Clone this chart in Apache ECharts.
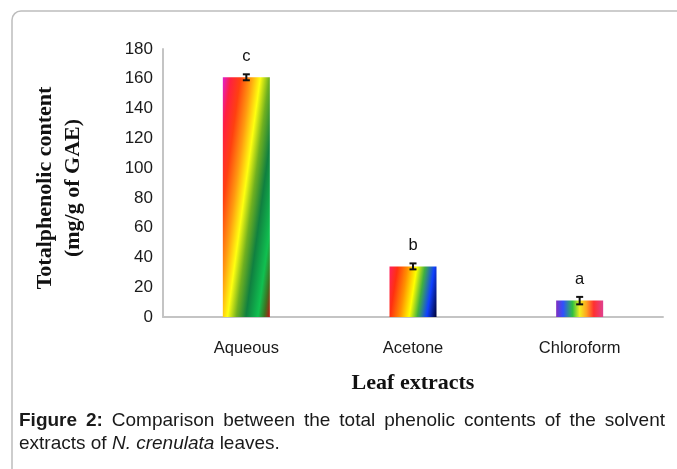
<!DOCTYPE html>
<html>
<head>
<meta charset="utf-8">
<script src="https://cdn.jsdelivr.net/npm/echarts@6/dist/echarts.min.js"></script>
<style>
html,body{margin:0;padding:0;background:#fff;}
#chart{width:677px;height:469px;}
</style>
</head>
<body>
<div id="chart"></div>
<script>
// ---- data ----
const categories = ['Aqueous', 'Acetone', 'Chloroform'];
const values = [161, 34, 11];
const errors = [2, 2, 2.5];
const letters = ['c', 'b', 'a'];
const yMin = 0, yMax = 180, yStep = 20;
const yTitleLines = ['Totalphenolic content', '(mg/g of GAE)'];
const xTitle = 'Leaf extracts';
const captionLine1 = [['Figure', true], ['2:', true], ['Comparison', false], ['between', false], ['the', false], ['total', false], ['phenolic', false], ['contents', false], ['of', false], ['the', false], ['solvent', false]];
const captionLine2 = 'extracts of {i|N. crenulata} leaves.';

// ---- styles ----
const G = echarts.graphic.LinearGradient;
const barFills = [
  new G(0, 0, 1.67, 0.045, [
    {offset: 0, color: '#e020d0'}, {offset: 0.1, color: '#ff2040'}, {offset: 0.22, color: '#ff4010'},
    {offset: 0.35, color: '#ff9a10'}, {offset: 0.47, color: '#ffff10'}, {offset: 0.58, color: '#70b020'},
    {offset: 0.7, color: '#108040'}, {offset: 0.85, color: '#10c050'}, {offset: 0.93, color: '#407020'},
    {offset: 1, color: '#c01010'}]),
  new G(0, 0, 1.14, 0.165, [
    {offset: 0, color: '#ff2060'}, {offset: 0.15, color: '#ff3010'}, {offset: 0.33, color: '#ff9000'},
    {offset: 0.5, color: '#ffff00'}, {offset: 0.65, color: '#40b040'}, {offset: 0.82, color: '#1040ff'},
    {offset: 1, color: '#000030'}]),
  new G(0, 0, 1, 0, [
    {offset: 0, color: '#8030c0'}, {offset: 0.15, color: '#3050ff'}, {offset: 0.35, color: '#30c040'},
    {offset: 0.5, color: '#f0f020'}, {offset: 0.65, color: '#ffa020'}, {offset: 0.8, color: '#ff3030'},
    {offset: 1, color: '#e04090'}])
];

const SANS = '"Liberation Sans", Arial, sans-serif';
const SERIF = '"Liberation Serif", "Times New Roman", serif';

// caption line 1: justified word layout
const capFont = 19, capLeft = 19, capRight = 665;
const ctx = document.createElement('canvas').getContext('2d');
const widths = captionLine1.map(([w, b]) => {
  ctx.font = (b ? 'bold ' : '') + capFont + 'px ' + SANS;
  return ctx.measureText(w).width;
});
const totalW = widths.reduce((a, b) => a + b, 0);
const gap = (capRight - capLeft - totalW) / (captionLine1.length - 1);
let cx = capLeft;
const captionEls = captionLine1.map(([w, b], i) => {
  const el = {
    type: 'text', x: cx, y: 421, silent: true,
    style: {text: w, font: (b ? 'bold ' : '') + capFont + 'px ' + SANS, fill: '#1a1a1a', verticalAlign: 'middle', align: 'left'}
  };
  cx += widths[i] + gap;
  return el;
});

const chart = echarts.init(document.getElementById('chart'), null, {renderer: 'canvas'});
chart.setOption({
  animation: false,
  backgroundColor: '#fff',
  grid: {left: 163, right: 14, top: 49, bottom: 152},
  xAxis: {
    type: 'category', data: categories,
    axisLine: {lineStyle: {color: '#c4c4c4', width: 2}},
    axisTick: {show: false},
    axisLabel: {fontSize: 16.5, color: '#1a1a1a', fontFamily: SANS, margin: 23},
    name: xTitle, nameLocation: 'middle', nameGap: 55,
    nameTextStyle: {fontFamily: SERIF, fontWeight: 'bold', fontSize: 22, color: '#111'}
  },
  yAxis: {
    type: 'value', min: yMin, max: yMax, interval: yStep,
    axisLine: {show: true, lineStyle: {color: '#c4c4c4', width: 2}},
    axisTick: {show: false},
    splitLine: {show: false},
    axisLabel: {fontSize: 17, color: '#1a1a1a', fontFamily: SANS, margin: 10}
  },
  series: [
    {
      type: 'bar', barWidth: 47, barCategoryGap: '0%',
      data: values.map((v, i) => ({value: v, itemStyle: {color: barFills[i]}}))
    },
    {
      type: 'custom', z: 5,
      data: values.map((v, i) => [i, v, errors[i]]),
      renderItem: function (params, api) {
        const i = api.value(0), v = api.value(1), e = api.value(2);
        const top = api.coord([i, v + e]);
        const bot = api.coord([i, v - e]);
        const x = top[0], hw = 3.5;
        const ls = {stroke: '#111', lineWidth: 2};
        return {
          type: 'group',
          children: [
            {type: 'line', shape: {x1: x, y1: top[1], x2: x, y2: bot[1]}, style: ls},
            {type: 'line', shape: {x1: x - hw, y1: top[1], x2: x + hw, y2: top[1]}, style: ls},
            {type: 'line', shape: {x1: x - hw, y1: bot[1], x2: x + hw, y2: bot[1]}, style: ls},
            {type: 'text', x: x, y: top[1] - 9, style: {text: letters[params.dataIndex], font: '16.5px ' + SANS, fill: '#111', align: 'center', verticalAlign: 'bottom'}}
          ]
        };
      }
    }
  ],
  graphic: [
    {type: 'rect', silent: true, z: -10, shape: {x: 12, y: 11, width: 760, height: 560, r: 9}, style: {fill: 'none', stroke: '#bdbdbd', lineWidth: 1.5}},
    {type: 'text', silent: true, x: 59, y: 188, rotation: Math.PI / 2,
      style: {text: yTitleLines.join('\n'), font: 'bold 22px ' + SERIF, lineHeight: 28, fill: '#111', align: 'center', verticalAlign: 'middle'}},
    ...captionEls,
    {type: 'text', silent: true, x: capLeft, y: 444,
      style: {text: captionLine2, font: capFont + 'px ' + SANS, fill: '#1a1a1a', verticalAlign: 'middle', align: 'left',
        rich: {i: {fontStyle: 'italic', fontSize: capFont, fontFamily: SANS, fill: '#1a1a1a'}}}}
  ]
});
</script>
</body>
</html>
